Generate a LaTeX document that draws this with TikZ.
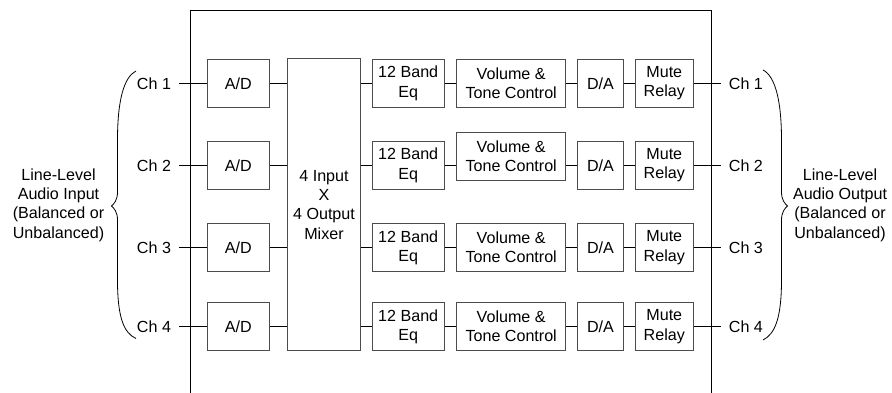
\documentclass[tikz,border=0pt]{standalone}
\usepackage{fontspec}
\setmainfont{Liberation Sans}
\begin{document}
\begin{tikzpicture}[x=1pt,y=-1pt,line width=0.9pt]
	\tikzstyle{every node}+=[inner sep=0pt, font=\fontsize{16.1}{19.3}\selectfont, align=center]
	\tikzstyle{blk}=[draw=black!70, minimum height=48.5pt]
	\tikzstyle{chan}=[inner xsep=7.4pt]
	\useasboundingbox (0,0) rectangle (892,393);
	% enclosure
	\draw [black] (190,393) -- (190,10.7) -- (711.7,10.7) -- (711.7,393);
	\node [blk, minimum width=73.4pt, minimum height=291.7pt] (mix) at (324,204.8) {4 Input\\X\\4 Output\\Mixer};
	% one row per channel
	\foreach \r/\y/\v in {1/83.3/83.3, 2/165.3/156.5, 3/247.5/247.5, 4/326.5/326.5} {
		\node [chan] (in\r) at (154,\y) {Ch \r};
		\node [blk, minimum width=62pt] (ad\r) at (238.3,\y) {A/D};
		\node [blk, minimum width=72.3pt] (eq\r) at (408.2,\y) {12 Band\\Eq};
		\node [blk, minimum width=109pt] (vol\r) at (511.2,\v) {Volume \&\\Tone Control};
		\node [blk, minimum width=45.6pt] (da\r) at (600.5,\y) {D/A};
		\node [blk, minimum width=58pt] (mu\r) at (664.3,\y) {Mute\\Relay};
		\node [chan] (out\r) at (745.9,\y) {Ch \r};
		\draw [black] (in\r) -- (ad\r);
		\draw [black] (ad\r.east) -- (mix.west |- ad\r.east);
		\draw [black] (mix.east |- eq\r.west) -- (eq\r.west);
		\draw [black] (eq\r.east) -- (vol\r.west |- eq\r.east);
		\draw [black] (vol\r.east |- da\r.west) -- (da\r.west);
		\draw [black] (da\r) -- (mu\r);
		\draw [black] (mu\r) -- (out\r);
	}
	% braces
	\draw [black, line width=0.8pt] (136,71) .. controls (124,77) and (117.5,100) .. (117.5,140) -- (117.5,192) .. controls (117.5,200) and (114,204) .. (111.5,206) .. controls (114,208) and (117.5,212) .. (117.5,220) -- (117.5,280) .. controls (117.5,318) and (124,333) .. (136,338.5);
	\draw [black, line width=0.8pt] (763,70) .. controls (775,76) and (781.5,100) .. (781.5,140) -- (781.5,192) .. controls (781.5,200) and (785,204) .. (787.5,206) .. controls (785,208) and (781.5,212) .. (781.5,220) -- (781.5,280) .. controls (781.5,318) and (775,334) .. (763,340);
	\node (inlbl) at (58.5,205) {Line-Level\\Audio Input\\(Balanced or\\Unbalanced)};
	\node (outlbl) at (840,205) {Line-Level\\Audio Output\\(Balanced or\\Unbalanced)};
\end{tikzpicture}
\end{document}
